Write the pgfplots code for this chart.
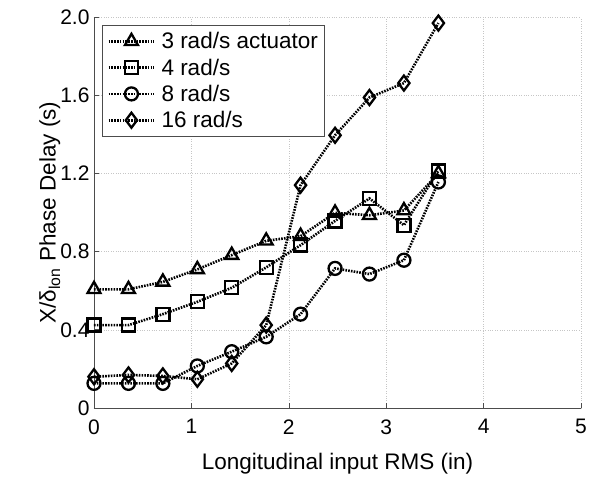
\documentclass[border=0pt]{standalone}
\usepackage{fontspec}
\setmainfont{Liberation Sans}
\usepackage{pgfplots}
\pgfplotsset{compat=1.18}
\usetikzlibrary{calc}
\begin{document}
\begin{tikzpicture}
\begin{axis}[
  name=ax,
  scale only axis,
  width=487pt, height=391pt,
  xmin=0, xmax=5, ymin=0, ymax=2,
  xtick={0,1,2,3,4,5},
  ytick={0,0.4,0.8,1.2,1.6,2.0},
  yticklabels={0,0.4,0.8,1.2,1.6,2.0},
  axis x line*=bottom, axis y line*=left,
  axis line style={gray!60!black, line width=0.8pt},
  tick align=inside,
  major tick length=5pt,
  tick style={gray!60!black, line width=0.6pt},
  grid=major,
  major grid style={gray!45, dotted, line width=0.5pt},
  /pgf/number format/assume math mode=true,
  tick label style={font=\fontsize{21}{25}\selectfont},
  xticklabel style={yshift=-8pt},
  yticklabel style={xshift=-1pt},
  label style={font=\fontsize{22.5}{27}\selectfont},
  xlabel={Longitudinal input RMS (in)},
  xlabel style={yshift=-12pt},
  ylabel={X/δ\textsubscript{lon} Phase Delay (s)},
  ylabel style={yshift=-7pt},
  legend style={at={(0.0164,0.9795)}, anchor=north west, draw=gray!60!black, line width=0.8pt,
    font=\fontsize{22.5}{27}\selectfont, row sep=4.5pt, inner xsep=5pt, inner ysep=5pt,
    /tikz/every odd column/.append style={column sep=4pt}},
  legend cell align=left,
  legend image code/.code={\draw[mark repeat=2,mark phase=2] plot coordinates {(0cm,0cm) (0.8cm,0cm) (1.6cm,0cm)};},
  every axis plot/.append style={black, line width=2.6pt, dash pattern=on 1.6pt off 1.2pt,
    mark options={solid, line width=2.3pt, fill=none}},
]
\addplot[mark=triangle, mark size=7.5pt] coordinates {
(0,0.607) (0.354,0.607) (0.707,0.645) (1.061,0.709) (1.414,0.782) (1.768,0.855) (2.121,0.879) (2.475,0.998) (2.828,0.986) (3.182,1.01) (3.536,1.20)};
\addlegendentry{3 rad/s actuator}
\addplot[mark=square, mark size=6.5pt] coordinates {
(0,0.424) (0.354,0.424) (0.707,0.480) (1.061,0.543) (1.414,0.615) (1.768,0.719) (2.121,0.833) (2.475,0.957) (2.828,1.072) (3.182,0.935) (3.536,1.213)};
\addlegendentry{4 rad/s}
\addplot[mark=o, mark size=6.5pt] coordinates {
(0,0.126) (0.354,0.126) (0.707,0.126) (1.061,0.215) (1.414,0.288) (1.768,0.364) (2.121,0.480) (2.475,0.714) (2.828,0.685) (3.182,0.756) (3.536,1.156)};
\addlegendentry{8 rad/s}
\addplot[mark=diamond, mark size=7.5pt] coordinates {
(0,0.160) (0.354,0.169) (0.707,0.164) (1.061,0.147) (1.414,0.228) (1.768,0.424) (2.121,1.14) (2.475,1.395) (2.828,1.588) (3.182,1.662) (3.536,1.969)};
\addlegendentry{16 rad/s}
\end{axis}
\pgfresetboundingbox
\path ($(ax.south west)+(-94pt,-70pt)$) rectangle ($(ax.north east)+(11pt,17pt)$);
\end{tikzpicture}
\end{document}
